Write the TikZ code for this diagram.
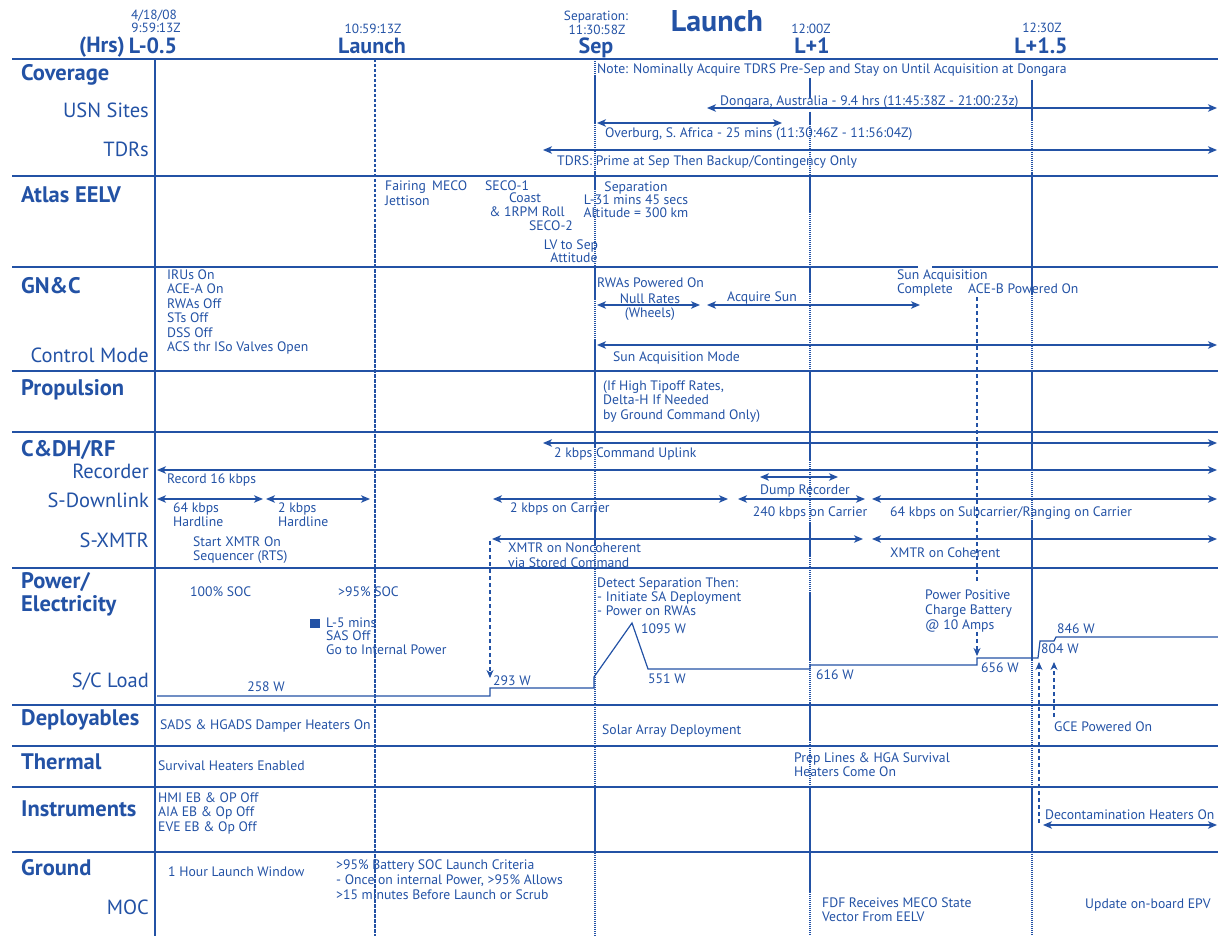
\documentclass[tikz,border=0pt]{standalone}
\usepackage{fontspec}
\setmainfont{PT Sans}
\usetikzlibrary{arrows.meta}
\definecolor{sdoblue}{RGB}{35,82,165}

\newcommand\bodyfont{\fontsize{13.7}{14}\selectfont}
\newcommand\rowfont{\fontsize{22.5}{24}\selectfont\bfseries}
\newcommand\subfont{\fontsize{20.5}{22}\selectfont}
\newcommand\epochfont{\fontsize{22}{24}\selectfont\bfseries}
\newcommand\stampfont{\fontsize{13.3}{14}\selectfont}
\newcommand\bodyskip[1]{\fontsize{13.7}{#1}\selectfont}

% double-headed span arrow between two named coordinates
\newcommand\barrow[4]{%
  \coordinate (#1-l) at (#2,#4);
  \coordinate (#1-r) at (#3,#4);
  \draw[spanarrow] (#1-l) -- (#1-r);}

\begin{document}
\begin{tikzpicture}[x=1pt,y=-1pt,
  every node/.style={text=sdoblue,inner sep=0pt},
  tx/.style={font=\bodyfont,anchor=base west,align=left},
  txc/.style={font=\bodyfont,anchor=base,align=center},
  rowlabel/.style={font=\rowfont,anchor=base west,align=left},
  sublabel/.style={font=\subfont,anchor=base east},
  epoch/.style={font=\epochfont,anchor=base},
  stamp/.style={font=\stampfont,anchor=base},
  rowline/.style={draw=sdoblue,line width=2.4pt},
  epochsolid/.style={draw=sdoblue,line width=2.2pt},
  epochdot/.style={draw=sdoblue,line width=2pt,dash pattern=on 1pt off 1pt},
  launchline/.style={draw=sdoblue,line width=1.6pt,dash pattern=on 3.5pt off 1.5pt},
  spanarrow/.style={draw=sdoblue,line width=1.2pt,{Stealth[length=9pt,width=7.5pt,inset=2.5pt]}-{Stealth[length=9pt,width=7.5pt,inset=2.5pt]}},
  cue/.style={draw=sdoblue,line width=1.1pt,dash pattern=on 4pt off 3pt},
  cuearrow/.style={cue,-{Stealth[length=8pt,width=7pt,inset=2.5pt]}},
  load/.style={draw=sdoblue,line width=1.2pt}
]
\useasboundingbox (0,0) rectangle (1218,936);

% ---------------- row separators ----------------
\foreach \yy in {59,176,371,432,568,705,746,787,852}
  \draw[rowline] (12,\yy) -- (1218,\yy);
\draw[rowline] (12,267) -- (918,267);
\draw[rowline] (932,267) -- (1218,267);

% ---------------- epoch lines ----------------
\draw[epochsolid] (155,59) -- (155,936);
\draw[launchline] (375,59) -- (375,936);

% Sep
\draw[epochdot] (595,59) -- (595,936);
\foreach \ya/\yb in {75/123,172/190,267/300,340/448,510/545,787/852}
  \draw[epochsolid] (595,\ya) -- (595,\yb);
% L+1
\draw[epochsolid] (810,78) -- (810,98);
\draw[epochdot] (810,112) -- (810,936);
\foreach \ya/\yb in {112/124,176/213,267/293,370/460,522/557,593/660,703/740,787/893}
  \draw[epochsolid] (810,\ya) -- (810,\yb);
% L+1.5
\draw[epochdot] (1032,80) -- (1032,936);
\foreach \ya/\yb in {80/120,172/295,370/470,520/660,787/852}
  \draw[epochsolid] (1032,\ya) -- (1032,\yb);

% ---------------- header ----------------
\node[stamp] (date) at (154,20) {4/18/08};
\node[stamp] (tm0) at (156,33) {9:59:13Z};
\node[epoch,anchor=base east] (hrs) at (125,53) {(Hrs)};
\node[epoch] (ep0) at (153,54) {L-0.5};
\node[stamp] (tm1) at (373,34) {10:59:13Z};
\node[epoch] (ep1) at (372,54) {Launch};
\node[stamp] (sepcap) at (596,21) {Separation:};
\node[stamp] (tm2) at (597,35) {11:30:58Z};
\node[epoch] (ep2) at (596,54) {Sep};
\node[font=\fontsize{30}{32}\selectfont\bfseries,anchor=base] (title) at (717,32) {Launch};
\node[stamp] (tm3) at (811,34) {12:00Z};
\node[epoch] (ep3) at (812,54) {L+1};
\node[stamp] (tm4) at (1042,33) {12:30Z};
\node[epoch] (ep4) at (1041,54) {L+1.5};

% ---------------- row labels ----------------
\node[rowlabel] (rCov) at (21,81) {Coverage};
\node[sublabel] (sUSN) at (149,118) {USN Sites};
\node[sublabel] (sTDR) at (149,157) {TDRs};
\node[rowlabel] (rAtlas) at (21,203) {Atlas EELV};
\node[rowlabel] (rGNC) at (21,293) {GN\&C};
\node[sublabel] (sCM) at (149,362) {Control Mode};
\node[rowlabel] (rProp) at (21,395) {Propulsion};
\node[rowlabel] (rCDH) at (21,456) {C\&DH/RF};
\node[sublabel] (sRec) at (149,478) {Recorder};
\node[sublabel] (sDL) at (149,507) {S-Downlink};
\node[sublabel] (sXM) at (149,547) {S-XMTR};
\node[rowlabel,font=\fontsize{22.5}{22.5}\selectfont\bfseries] (rPow) at (21,611) {Power/\\Electricity};
\node[sublabel] (sLoad) at (149,687) {S/C Load};
\node[rowlabel] (rDep) at (21,725) {Deployables};
\node[rowlabel] (rTh) at (21,769) {Thermal};
\node[rowlabel] (rIns) at (21,816) {Instruments};
\node[rowlabel] (rGnd) at (21,875) {Ground};
\node[sublabel] (sMOC) at (149,914) {MOC};

% ---------------- coverage ----------------
\node[tx] (note) at (597,74) {Note: Nominally Acquire TDRS Pre-Sep and Stay on Until Acquisition at Dongara};
\barrow{dong}{707}{1217}{108}
\node[tx] (dongT) at (720,106) {Dongara, Australia - 9.4 hrs (11:45:38Z - 21:00:23z)};
\barrow{over}{597}{782}{123}
\node[tx] (overT) at (605,138) {Overburg, S. Africa - 25 mins (11:30:46Z - 11:56:04Z)};
\barrow{tdrs}{543}{1217}{150}
\node[tx] (tdrsT) at (557,166) {TDRS: Prime at Sep Then Backup/Contingency Only};

% ---------------- Atlas EELV ----------------
\node[tx,font=\bodyskip{15}] (fair) at (385,206) {Fairing\\Jettison};
\node[tx] (meco) at (432,191) {MECO};
\node[tx] (seco1) at (485,191) {SECO-1};
\node[txc] (coast) at (525,203) {Coast};
\node[txc] (roll) at (527,217) {\& 1RPM Roll};
\node[txc] (seco2) at (551,231) {SECO-2};
\node[txc] (lvsep) at (571,249) {LV to Sep};
\node[txc] (att) at (574,262) {Attitude};
\node[txc,font=\bodyskip{13.2}] (sepT) at (636,217.4) {Separation\\L-31 mins 45 secs\\Altitude = 300 km};

% ---------------- GN&C ----------------
\node[tx,font=\bodyskip{14.4}] (gncinit) at (167,351.5) {IRUs On\\ACE-A On\\RWAs Off\\STs Off\\DSS Off\\ACS thr ISo Valves Open};
\node[tx] (rwaon) at (597,287) {RWAs Powered On};
\barrow{null}{597}{700}{305}
\node[txc] (nullT) at (650,303) {Null Rates};
\node[txc] (wheel) at (650,317) {(Wheels)};
\barrow{acq}{707}{920}{305}
\node[tx] (acqT) at (727,301) {Acquire Sun};
\node[tx] (sacT) at (897,293) {Sun Acquisition\\Complete};
\node[tx] (aceb) at (968,293) {ACE-B Powered On};
\barrow{sam}{597}{1217}{345}
\node[tx] (samT) at (613,361) {Sun Acquisition Mode};

% ---------------- Propulsion ----------------
\node[tx,font=\bodyskip{14.5}] (propT) at (603,419) {(If High Tipoff Rates,\\Delta-H If Needed\\by Ground Command Only)};

% ---------------- C&DH/RF ----------------
\barrow{upl}{543}{1217}{443}
\node[tx] (uplT) at (554,457) {2 kbps Command Uplink};
\barrow{rec}{157}{1217}{470}
\node[tx] (recT) at (167,483) {Record 16 kbps};
\barrow{hl64}{157}{263}{499}
\node[tx] (hl64T) at (173,526) {64 kbps\\Hardline};
\barrow{hl2}{266}{370}{499}
\node[tx] (hl2T) at (278,526) {2 kbps\\Hardline};
\node[tx] (startx) at (193,560) {Start XMTR On\\Sequencer (RTS)};
\barrow{car2}{493}{728}{499}
\node[tx] (car2T) at (510,512) {2 kbps on Carrier};
\barrow{dump}{760}{838}{477}
\node[txc] (dumpT) at (805,494) {Dump Recorder};
\barrow{car240}{738}{865}{499}
\node[txc] (car240T) at (810,516) {240 kbps on Carrier};
\barrow{sub64}{872}{1217}{499}
\node[tx] (sub64T) at (890,516) {64 kbps on Subcarrier/Ranging on Carrier};
\barrow{ncoh}{492}{863}{539}
\node[tx,font=\bodyskip{15}] (ncohT) at (508,567) {XMTR on Noncoherent\\via Stored Command};
\barrow{coh}{872}{1217}{539}
\node[tx] (cohT) at (890,557) {XMTR on Coherent};

% ---------------- Power ----------------
\node[tx] (soc100) at (190,596) {100\% SOC};
\node[tx] (soc95) at (338,596) {>95\% SOC};
\fill[sdoblue] (310,619) rectangle (320,628);
\node[tx,font=\bodyskip{13.5}] (l5) at (326,654) {L-5 mins\\SAS Off\\Go to Internal Power};
\node[txc] (w258) at (266,691) {258 W};
\node[tx] (w293) at (493,685) {293 W};
\node[tx] (detect) at (597,615) {Detect Separation Then:\\- Initiate SA Deployment\\- Power on RWAs};
\node[tx] (w1095) at (641,633) {1095 W};
\node[tx] (w551) at (648,683) {551 W};
\node[tx] (w616) at (816,679) {616 W};
\node[tx,font=\bodyskip{15}] (ppos) at (925,629) {Power Positive\\Charge Battery\\@ 10 Amps};
\node[tx] (w656) at (981,672) {656 W};
\node[tx] (w846) at (1057,633) {846 W};
\node[tx] (w804) at (1041,653) {804 W};

% spacecraft load profile
\draw[load] (157,696) -- (490,696) -- (490,688) -- (594,688) -- (594,677)
  -- (632,623) -- (648,669) -- (810,669) -- (810,665) -- (977,665)
  -- (977,658) -- (1038,658) -- (1040,641) -- (1054,641) -- (1056,637) -- (1218,637);

% event cues onto the load profile
\coordinate (cueX1) at (490,541);
\coordinate (cueX2) at (490,678);
\draw[cuearrow] (cueX1) -- (cueX2);
\coordinate (cueB1) at (977,297);
\coordinate (cueB2) at (977,583);
\coordinate (cueB3) at (977,632);
\coordinate (cueB4) at (977,656);
\draw[cue] (cueB1) -- (cueB2);
\draw[cuearrow] (cueB3) -- (cueB4);
\coordinate (cueD1) at (1039,823);
\coordinate (cueD2) at (1039,662);
\draw[cuearrow] (cueD1) -- (cueD2);
\coordinate (cueG1) at (1054,717);
\coordinate (cueG2) at (1054,662);
\draw[cuearrow] (cueG1) -- (cueG2);

% ---------------- Deployables / Thermal / Instruments ----------------
\node[tx] (dampers) at (160,729) {SADS \& HGADS Damper Heaters On};
\node[tx] (sadep) at (602,734) {Solar Array Deployment};
\node[tx] (gce) at (1054,731) {GCE Powered On};
\node[tx] (surv) at (158,770) {Survival Heaters Enabled};
\node[tx] (prep) at (794,776) {Prep Lines \& HGA Survival\\Heaters Come On};
\node[tx,font=\bodyskip{14.5}] (instoff) at (158,831) {HMI EB \& OP Off\\AIA EB \& Op Off\\EVE EB \& Op Off};
\barrow{decon}{1043}{1217}{825}
\node[tx] (deconT) at (1045,819) {Decontamination Heaters On};

% ---------------- Ground ----------------
\node[tx] (window) at (168,876) {1 Hour Launch Window};
\node[tx,font=\bodyskip{15}] (crit) at (336,899) {>95\% Battery SOC Launch Criteria\\- Once on internal Power, >95\% Allows\\>15 minutes Before Launch or Scrub};
\node[tx] (fdf) at (822,921) {FDF Receives MECO State\\Vector From EELV};
\node[tx] (epv) at (1085,908) {Update on-board EPV};
\end{tikzpicture}
\end{document}
